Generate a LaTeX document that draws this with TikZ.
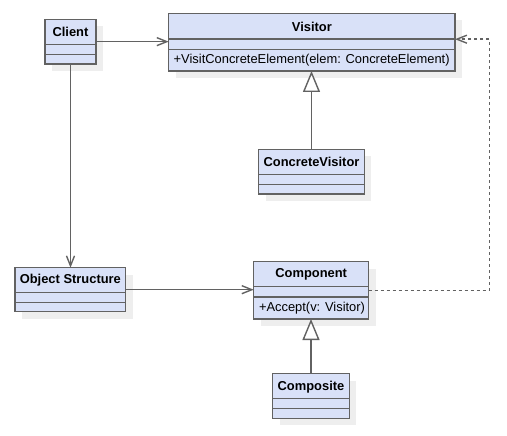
\documentclass[tikz,border=0pt]{standalone}
\usepackage{fontspec}
\setmainfont{Liberation Sans}
\usetikzlibrary{arrows.meta}
\definecolor{boxfill}{HTML}{D9E1F8}
\definecolor{boxline}{HTML}{626262}
\definecolor{shadowc}{HTML}{EEEEEE}
\tikzset{
  classbox/.style={draw=boxline, fill=boxfill, line width=1.4pt, inner sep=0pt, outer sep=0pt},
  titletext/.style={font=\fontsize{12.9}{14}\selectfont\bfseries, inner sep=0pt},
  methodtext/.style={font=\fontsize{12.9}{14}\selectfont, inner sep=0pt, anchor=west},
  assoc/.style={draw=boxline, line width=1.4pt, -{Straight Barb[length=10pt,width=8pt]}},
  depend/.style={assoc, dash pattern=on 3pt off 3pt},
  generalize/.style={draw=boxline, line width=1.4pt, -{Triangle[length=21pt,width=17pt,fill=white]}},
}
% name, x, y, w, h, divider1, divider2, title
\newcommand\umlclass[8]{%
  \fill[shadowc] (#2+7,#3+7) rectangle ++(#4,#5);
  \node[classbox, minimum width=#4pt, minimum height=#5pt, anchor=north west] (#1) at (#2,#3) {};
  \draw[boxline, line width=1.4pt] (#2,#6) -- ++(#4,0) (#2,#7) -- ++(#4,0);
  \node[titletext] (#1-title) at ({#2+#4/2}, {(#3+#6)/2+0.5}) {#8};
}
\begin{document}
\begin{tikzpicture}[x=1pt, y=-1pt]
\fill[white] (0,0) rectangle (507,436);
\useasboundingbox (0,0) rectangle (507,436);

\umlclass{client}{45}{19.3}{51}{44.7}{44.3}{54.3}{Client}
\umlclass{visitor}{168.7}{13.3}{286.3}{57.7}{39}{49.3}{Visitor}
\node[methodtext] (visitor-m) at (173.5,60.6) {+VisitConcreteElement(elem: ConcreteElement)};
\umlclass{cv}{258.7}{149.3}{105.6}{44.7}{174.3}{184.3}{ConcreteVisitor}
\umlclass{objs}{15}{267.7}{110.7}{44}{292.3}{302.3}{Object Structure}
\umlclass{comp}{253.7}{261.7}{115}{57.3}{286.7}{297}{Component}
\node[methodtext] (comp-m) at (258.8,308.4) {+Accept(v: Visitor)};
\umlclass{composite}{272.7}{373.7}{76.6}{44.6}{398.7}{408.7}{Composite}

\draw[assoc] (client.east) -- (client.east -| visitor.west);
\draw[assoc] (client.south) -- (client.south |- objs.north);
\draw[assoc] (objs.east) -- (objs.east -| comp.west);
\draw[generalize] (cv.north) -- (cv.north |- visitor.south);
\draw[generalize] (composite.north) -- (composite.north |- comp.south);
\coordinate (corner) at (489.3,39.2);
\draw[depend] (comp.east) -| (corner) -- (corner -| visitor.east);
\end{tikzpicture}
\end{document}
